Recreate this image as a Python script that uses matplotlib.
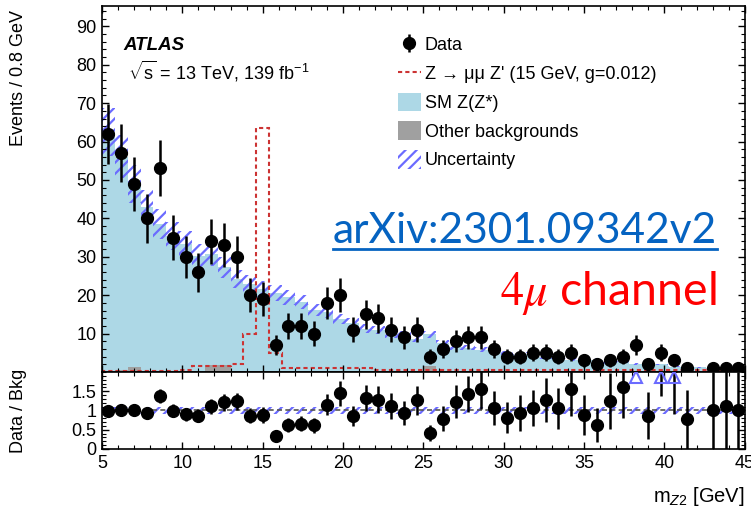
import numpy as np
import matplotlib
matplotlib.use('Agg')
import matplotlib.pyplot as plt
from matplotlib.lines import Line2D
from matplotlib.patches import Patch
from matplotlib.ticker import MultipleLocator, FixedLocator, FixedFormatter

plt.rcParams['font.family'] = ['Liberation Sans', 'DejaVu Sans']
plt.rcParams['mathtext.fontset'] = 'custom'
plt.rcParams['mathtext.rm'] = 'Liberation Sans'
plt.rcParams['mathtext.it'] = 'Liberation Sans:italic'
plt.rcParams['hatch.linewidth'] = 1.6

# m_Z2 binning: 50 bins of 0.8 GeV between 5 and 45 GeV
edges = np.linspace(5, 45, 51)
centers = 0.5 * (edges[:-1] + edges[1:])

data = [62, 57, 49, 40, 53, 35, 30, 26, 34, 33,
        30, 20, 19, 7, 12, 12, 10, 18, 20, 11,
        15, 14, 11, 9, 11, 4, 6, 8, 9, 9,
        6, 4, 4, 5, 5, 4, 5, 3, 2, 3,
        4, 7, 2, 5, 3, 1, 0, 1, 1, 1]

sm_zz = [62.4, 55.4, 47.8, 42.8, 38.3, 35.2, 33.1, 29.9, 28.8, 25.5,
         23.9, 22.8, 21.4, 20.4, 19.2, 18.0, 15.9, 15.5, 13.6, 12.6,
         11.1, 10.7, 9.7, 9.5, 8.5, 8.3, 7.4, 6.3, 6.1, 5.6,
         5.5, 4.8, 4.2, 4.6, 3.8, 3.7, 3.1, 3.3, 3.1, 2.3,
         2.4, 2.0, 2.2, 1.9, 1.3, 1.2, 1.1, 0.9, 0.8, 0.9]

other_bkg = [0.2, 0.6, 1.2, 0.2, 0.2, 0.2, 0.2, 0.3, 1.8, 1.8,
             0.3, 0.2, 0.2, 0.2, 0.2, 0.2, 0.2, 0.2, 0.2, 0.2,
             0.2, 0.2, 0.2, 0.2, 0.2, 1.5, 0.2, 0.2, 0.2, 0.2,
             0.1, 0.1, 0.1, 0.1, 0.1, 0.1, 0.1, 0.1, 0.1, 0.1,
             0.1, 0.1, 0.1, 0.1, 0.1, 0.1, 0.1, 0.1, 0.1, 0.1]

# Z -> mu mu Z' signal, m_Z' = 15 GeV, g = 0.012
signal = [0.2, 0.2, 0.2, 0.2, 0.2, 0.2, 0.6, 1.5, 1.5, 1.5,
          2.2, 10.0, 63.5, 5.0, 1.1, 1.1, 1.1, 1.1, 1.1, 1.1,
          1.1, 0.5, 0.5, 0.5, 0.5, 0.5, 0.5, 0.5, 0.5, 0.5,
          0.5, 0.5, 0.5, 0.5, 0.5, 0.5, 0.5, 0.5, 0.5, 0.5,
          0.5, 0.5, 0.5, 0.5, 0.5, 0.5, 0.5, 0.5, 0.5, 0.5]

rel_unc = 0.1

data = np.array(data, dtype=float)
other_bkg = np.array(other_bkg)
total = np.array(sm_zz) + other_bkg

blue_hatch = '#6b6bff'
light_blue = '#add8e6'

fig = plt.figure(figsize=(7.51, 5.15), dpi=100)
ax = fig.add_axes([0.1358, 0.2777, 0.856, 0.7107])
rax = fig.add_axes([0.1358, 0.1282, 0.856, 0.1495], sharex=ax)

# stacked backgrounds
ax.stairs(other_bkg, edges, fill=True, color='#a0a0a0', lw=0)
ax.stairs(total, edges, baseline=other_bkg, fill=True, color=light_blue, lw=0)
ax.stairs(total * (1 + rel_unc), edges, baseline=total * (1 - rel_unc), fill=True,
          facecolor='none', edgecolor=blue_hatch, hatch='///', lw=0)
ax.stairs(signal, edges, color='#cc3333', ls=(0, (2, 1.5)), lw=1.5)

has = data > 0
eb = ax.errorbar(centers[has], data[has], yerr=np.sqrt(data[has]), fmt='o',
                 color='black', ms=8.5, elinewidth=1.8, capsize=0, zorder=5)

ax.set_xlim(5, 45)
ax.set_ylim(0, 95.3)
ax.xaxis.set_major_locator(MultipleLocator(5))
ax.xaxis.set_minor_locator(MultipleLocator(1))
ax.yaxis.set_major_locator(FixedLocator(np.arange(10, 91, 10)))
ax.yaxis.set_minor_locator(MultipleLocator(2))
ax.tick_params(labelbottom=False)

# ratio panel
ratio = data[has] / total[has]
ratio_err = np.sqrt(data[has]) / total[has]
rax.stairs(np.full(50, 1 + rel_unc), edges, baseline=np.full(50, 1 - rel_unc), fill=True,
           facecolor='none', edgecolor=blue_hatch, hatch='///', lw=0)
rax.axhline(1, color='#555555', ls=(0, (3, 2)), lw=1.2)
rax.errorbar(centers[has], ratio, yerr=ratio_err, fmt='o', color='black',
             ms=8.5, elinewidth=1.8, capsize=0, zorder=5)
off = ratio > 2
rax.plot(centers[has][off], np.full(off.sum(), 1.87), ls='none', marker='^',
         mfc='none', mec=blue_hatch, ms=8, mew=1.5, zorder=6)
rax.set_ylim(0, 2)
rax.yaxis.set_major_locator(FixedLocator([0, 0.5, 1, 1.5]))
rax.yaxis.set_major_formatter(FixedFormatter(['0', '0.5', '1', '1.5']))
rax.yaxis.set_minor_locator(MultipleLocator(0.1))

for a in (ax, rax):
    a.tick_params(which='both', direction='in', top=True, right=True, labelsize=13, pad=4)
    a.tick_params(which='major', length=5, width=1)
    a.tick_params(which='minor', length=3, width=0.8)
    for s in a.spines.values():
        s.set_linewidth(1.2)

ax.set_ylabel('Events / 0.8 GeV', fontsize=13, loc='top')
ax.yaxis.set_label_coords(-0.116, 0.99)
rax.set_ylabel('Data / Bkg', fontsize=13)
rax.yaxis.set_label_coords(-0.116, 0.5)
rax.set_xlabel('m$_{Z2}$ [GeV]', fontsize=14.5, loc='right', labelpad=10)

ax.text(0.033, 0.880, 'ATLAS', transform=ax.transAxes, fontsize=13.5,
        weight='bold', style='italic', va='baseline')
ax.text(0.040, 0.800, r'$\sqrt{\mathrm{s}}$ = 13 TeV, 139 fb$^{\mathrm{-1}}$',
        transform=ax.transAxes, fontsize=13, va='baseline')

handles = [eb,
           Line2D([], [], color='#cc3333', ls=(0, (2, 1.5)), lw=1.5),
           Patch(facecolor=light_blue, lw=0),
           Patch(facecolor='#a0a0a0', lw=0),
           Patch(facecolor='none', edgecolor=blue_hatch, hatch='///', lw=0)]
labels = ['Data', "Z \u2192 \u03bc\u03bc Z' (15 GeV, g=0.012)", 'SM Z(Z*)',
          'Other backgrounds', 'Uncertainty']
ax.legend(handles, labels, loc='upper left', bbox_to_anchor=(0.446, 0.945),
          frameon=False, fontsize=13, borderpad=0, handlelength=1.3,
          handleheight=1.2, handletextpad=0.2, labelspacing=0.52)

arxiv = fig.text(0.4434, 0.5282, 'arXiv:2301.09342v2', color='#0563c1',
                 fontsize=30.5, family='Lato', va='baseline')
fig.text(0.6658, 0.4078, r'$4\mu$ channel', color='red', fontsize=33.5,
         family='Lato', va='baseline', math_fontfamily='stix')

# underline the link
fig.canvas.draw()
bb = arxiv.get_window_extent()
y_line = 1 - 249 / 515
fig.add_artist(Line2D([bb.x0 / 751, bb.x1 / 751], [y_line, y_line],
                      color='#0563c1', lw=2))

fig.savefig('out.png', dpi=100)
